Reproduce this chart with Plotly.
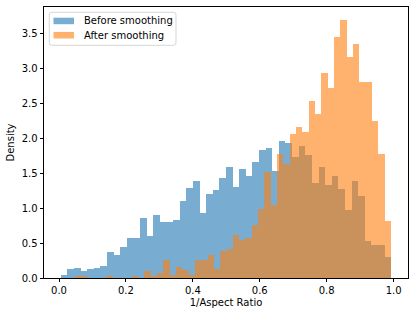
import plotly.graph_objects as go

# ---- data (density-normalised) ----
series_names = ["Before smoothing", "After smoothing"]

before_bin_start = 0.005
before_bin_width = 0.01976
before_density = [
    0.043, 0.123, 0.147, 0.100, 0.123, 0.147, 0.176, 0.376, 0.323, 0.447,
    0.576, 0.576, 0.852, 0.595, 0.900, 0.800, 0.800, 0.830, 1.104, 1.280,
    1.380, 0.925, 1.200, 1.255, 1.428, 1.580, 1.305, 1.557, 1.457, 1.660,
    1.833, 1.857, 1.533, 1.960, 1.935, 1.735, 1.890, 1.761, 1.357, 1.580,
    1.333, 1.460, 1.278, 0.976, 1.380, 1.176, 0.527, 0.476, 0.476, 0.298,
]

after_bin_start = 0.0465
after_bin_width = 0.01892
after_density = [
    0.020, 0.020, 0.000, 0.000, 0.000, 0.020, 0.000, 0.000, 0.000, 0.020,
    0.000, 0.100, 0.020, 0.073, 0.257, 0.045, 0.155, 0.120, 0.045, 0.252,
    0.252, 0.330, 0.123, 0.381, 0.414, 0.617, 0.543, 0.574, 0.752, 0.988,
    1.516, 1.043, 1.778, 1.623, 2.063, 2.161, 2.088, 2.533, 2.350, 2.929,
    2.719, 3.445, 3.686, 3.158, 3.345, 2.797, 2.797, 2.247, 1.771, 0.809,
]

x_tick_values = [0.0, 0.2, 0.4, 0.6, 0.8, 1.0]
x_tick_labels = ["0.0", "0.2", "0.4", "0.6", "0.8", "1.0"]
y_tick_values = [0.0, 0.5, 1.0, 1.5, 2.0, 2.5, 3.0, 3.5]
y_tick_labels = ["0.0", "0.5", "1.0", "1.5", "2.0", "2.5", "3.0", "3.5"]

colors = ["#1f77b4", "#ff7f0e"]
alpha = 0.6

W, H = 415, 317
ML, MR, MT, MB = 44, 7, 7, 39
PW, PH = W - ML - MR, H - MT - MB
FONT = "DejaVu Sans"


def centers(start, width, n):
    return [start + width * (i + 0.5) for i in range(n)]


fig = go.Figure()
fig.add_trace(go.Bar(
    x=centers(before_bin_start, before_bin_width, len(before_density)),
    y=before_density, width=before_bin_width, name=series_names[0],
    marker=dict(color=colors[0], line=dict(width=0)), opacity=alpha,
    showlegend=False,
))
fig.add_trace(go.Bar(
    x=centers(after_bin_start, after_bin_width, len(after_density)),
    y=after_density, width=after_bin_width, name=series_names[1],
    marker=dict(color=colors[1], line=dict(width=0)), opacity=alpha,
    showlegend=False,
))


# ---- legend drawn like matplotlib's (pixel helpers -> paper coords) ----
def px(xp):
    return (xp - ML) / PW


def py(yp):
    return 1 - (yp - MT) / PH


def rounded_rect(x0, y0, x1, y1, r):
    rx, ry = r / PW, r / PH
    X0, X1, Y0, Y1 = px(x0), px(x1), py(y1), py(y0)
    return (f"M{X0+rx},{Y1} L{X1-rx},{Y1} Q{X1},{Y1} {X1},{Y1-ry} "
            f"L{X1},{Y0+ry} Q{X1},{Y0} {X1-rx},{Y0} L{X0+rx},{Y0} "
            f"Q{X0},{Y0} {X0},{Y0+ry} L{X0},{Y1-ry} Q{X0},{Y1} {X0+rx},{Y1} Z")


shapes = [dict(type="path", xref="paper", yref="paper",
               path=rounded_rect(49.3, 12.3, 176, 45.3, 2.5),
               line=dict(color="rgba(204,204,204,0.8)", width=1),
               fillcolor="rgba(255,255,255,0.8)", layer="above")]
annotations = []
patch_rows = [(17.7, 24.2), (31.9, 38.5)]
for i, (ya, yb) in enumerate(patch_rows):
    shapes.append(dict(type="rect", xref="paper", yref="paper",
                       x0=px(53.5), x1=px(74), y0=py(yb), y1=py(ya),
                       line=dict(width=0), fillcolor=colors[i],
                       opacity=alpha, layer="above"))
    annotations.append(dict(xref="paper", yref="paper", x=px(82),
                            y=py((ya + yb) / 2), text=series_names[i],
                            showarrow=False, xanchor="left", yanchor="middle",
                            font=dict(family=FONT, size=10, color="black")))

axis_common = dict(showline=True, mirror=True, linecolor="black", linewidth=0.8,
                   ticks="outside", ticklen=3.5, tickwidth=0.8, tickcolor="black",
                   showgrid=False, zeroline=False,
                   tickfont=dict(family=FONT, size=10, color="black"))

fig.update_layout(
    width=W, height=H,
    margin=dict(l=ML, r=MR, t=MT, b=MB, pad=0),
    paper_bgcolor="white", plot_bgcolor="white",
    barmode="overlay", bargap=0,
    showlegend=False,
    shapes=shapes, annotations=annotations,
    xaxis=dict(range=[-0.0449, 1.0431], tickvals=x_tick_values,
               ticktext=x_tick_labels,
               title=dict(text="1/Aspect Ratio", standoff=3,
                          font=dict(family=FONT, size=10, color="black")),
               **axis_common),
    yaxis=dict(range=[0, 3.873], tickvals=y_tick_values,
               ticktext=y_tick_labels,
               title=dict(text="Density", standoff=5,
                          font=dict(family=FONT, size=10, color="black")),
               **axis_common),
)

fig.write_html(
    "out.html",
    config={"displayModeBar": False},
    post_script="document.body.style.margin='0';document.body.style.padding='0';",
)
